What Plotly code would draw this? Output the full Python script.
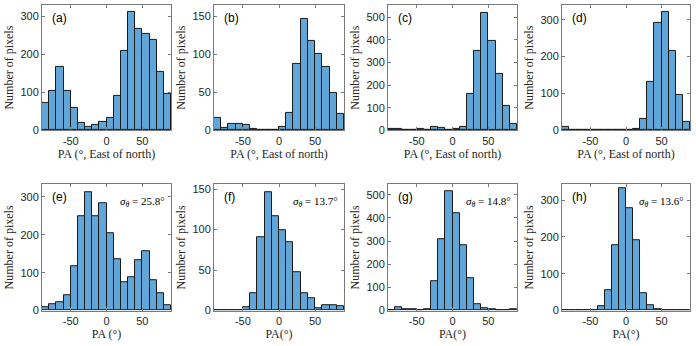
import plotly.graph_objects as go

# ---------------------------------------------------------------------------
# Data: 18 bins of 10 deg between -90 and 90
# ---------------------------------------------------------------------------
BIN_CENTRES = [-85, -75, -65, -55, -45, -35, -25, -15, -5,
               5, 15, 25, 35, 45, 55, 65, 75, 85]

COUNTS_A = [73, 105, 168, 104, 58, 19, 10, 15, 23, 33, 90, 210, 312, 268, 255, 238, 155, 96]
COUNTS_B = [16, 3, 8, 8, 7, 2, 0, 0, 0, 4, 23, 88, 146, 118, 100, 84, 49, 22]
COUNTS_C = [8, 6, 3, 2, 5, 3, 15, 10, 3, 5, 15, 162, 352, 518, 397, 250, 110, 28]
COUNTS_D = [8, 2, 0, 0, 0, 0, 0, 0, 0, 2, 5, 32, 132, 290, 322, 215, 95, 22]
COUNTS_E = [10, 18, 23, 40, 117, 248, 313, 248, 282, 203, 135, 74, 87, 132, 157, 80, 47, 15]
COUNTS_F = [1, 0, 0, 0, 4, 22, 91, 146, 116, 99, 84, 47, 21, 15, 3, 7, 7, 6]
COUNTS_G = [3, 13, 8, 5, 2, 5, 127, 308, 513, 420, 283, 140, 28, 10, 6, 2, 0, 6]
COUNTS_H = [0, 0, 0, 0, 2, 13, 55, 178, 333, 278, 192, 47, 15, 5, 0, 0, 0, 0]

PANEL_LABELS = ["(a)", "(b)", "(c)", "(d)", "(e)", "(f)", "(g)", "(h)"]
SIGMAS = [None, None, None, None, "25.8", "13.7", "14.8", "13.6"]
Y_MAX = [330, 165, 555, 340, 333, 156, 545, 343]
Y_DTICK = [100, 50, 100, 100, 100, 50, 100, 100]
X_TICKS = [-50, 0, 50]
X_TICK_TEXT = ["-50", "0", "50"]
X_TITLES = ["PA (°, East of north)"] * 4 + ["PA (°)", "PA(°)", "PA(°)", "PA(°)"]

ALL_COUNTS = [COUNTS_A, COUNTS_B, COUNTS_C, COUNTS_D,
              COUNTS_E, COUNTS_F, COUNTS_G, COUNTS_H]

# ---------------------------------------------------------------------------
# Layout geometry (pixels in a 696 x 346 canvas)
# ---------------------------------------------------------------------------
W, H = 696, 346
COL_X = [(42, 171), (214, 344), (388, 517), (562, 690)]
ROW_Y = [(4, 132), (187, 316)]

BAR_COLOUR = "rgb(96,166,216)"
AXIS_COLOUR = "#7a7a7a"
SERIF = "Liberation Serif"
SANS = "Liberation Sans"

fig = go.Figure()

layout_kwargs = {}
for i, counts in enumerate(ALL_COUNTS):
    row, col = divmod(i, 4)
    n = i + 1
    xa = "x" if n == 1 else f"x{n}"
    ya = "y" if n == 1 else f"y{n}"

    fig.add_trace(go.Bar(
        x=BIN_CENTRES,
        y=counts,
        width=10,
        marker=dict(color=BAR_COLOUR, line=dict(color="#1a1a1a", width=1)),
        xaxis=xa,
        yaxis=ya,
        showlegend=False,
    ))

    x0, x1 = COL_X[col]
    y0, y1 = ROW_Y[row]
    layout_kwargs[f"xaxis{'' if n == 1 else n}"] = dict(
        domain=[x0 / W, x1 / W],
        anchor=ya,
        range=[-90, 90],
        tickvals=X_TICKS,
        ticktext=X_TICK_TEXT,
        ticks="inside",
        ticklen=3,
        tickcolor=AXIS_COLOUR,
        showline=True,
        linecolor=AXIS_COLOUR,
        linewidth=1,
        mirror="allticks",
        showgrid=False,
        zeroline=False,
        tickfont=dict(family=SANS, size=11, color="#262626"),
        title=dict(text=X_TITLES[i], font=dict(family=SERIF, size=12, color="#262626"),
                   standoff=2),
    )
    layout_kwargs[f"yaxis{'' if n == 1 else n}"] = dict(
        domain=[1 - y1 / H, 1 - y0 / H],
        anchor=xa,
        range=[0, Y_MAX[i]],
        dtick=Y_DTICK[i],
        ticks="inside",
        ticklen=3,
        tickcolor=AXIS_COLOUR,
        showline=True,
        linecolor=AXIS_COLOUR,
        linewidth=1,
        mirror="allticks",
        showgrid=False,
        zeroline=False,
        tickfont=dict(family=SANS, size=11, color="#262626"),
        title=dict(text="Number of pixels", font=dict(family=SERIF, size=12, color="#262626"),
                   standoff=4),
    )

    fig.add_annotation(
        text=PANEL_LABELS[i], xref=f"{xa} domain", yref=f"{ya} domain",
        x=0.06, y=0.97, xanchor="left", yanchor="top", showarrow=False,
        font=dict(family=SANS, size=12, color="black"),
    )
    if SIGMAS[i]:
        fig.add_annotation(
            text=f"<i>σ<sub>θ</sub></i> = {SIGMAS[i]}°",
            xref=f"{xa} domain", yref=f"{ya} domain",
            x=0.97, y=0.93, xanchor="right", yanchor="top", showarrow=False,
            font=dict(family=SERIF, size=11, color="black"),
        )

fig.update_layout(
    width=W,
    height=H,
    margin=dict(l=0, r=0, t=0, b=0),
    plot_bgcolor="white",
    paper_bgcolor="white",
    bargap=0,
    **layout_kwargs,
)

# the page body has a default 8px margin; drop it so the figure fills the window
fig.write_html("out.html", config={"displayModeBar": False},
               post_script="document.body.style.margin='0';")
